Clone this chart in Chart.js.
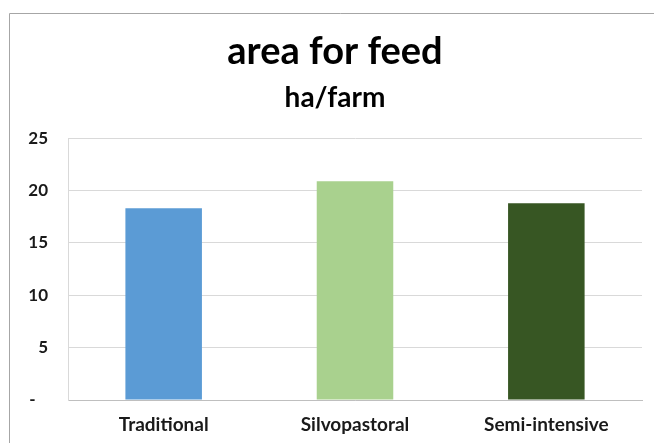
<!DOCTYPE html>
<html>
<head>
<meta charset="utf-8">
<script src="https://cdn.jsdelivr.net/npm/chart.js@4"></script>
<style>
html,body{margin:0;padding:0;background:#fff;overflow:hidden;}
#wrap{width:654px;height:443px;position:relative;overflow:hidden;}
</style>
</head>
<body>
<div id="wrap"><canvas id="c" width="670" height="443"></canvas></div>
<script>
const categories = ['Traditional', 'Silvopastoral', 'Semi-intensive'];
const areaForFeed = [18.3, 20.9, 18.8];
const barColors = ['#5B9BD5', '#A9D18E', '#375623'];
const yTicks = [0, 5, 10, 15, 20, 25];

const FONT = 'Lato, "Liberation Sans", sans-serif';

const frame = {
  id: 'frame',
  afterLayout(chart) {
    // centre the title blocks on the whole chart frame (as in the original)
    chart.boxes.forEach(b => {
      if (b.options && b.options.text !== undefined && b.position === 'top') {
        b.left = 0;
        b.right = chart.width;
        b.width = chart.width;
      }
    });
  },
  beforeDraw(chart) {
    const ctx = chart.ctx;
    ctx.save();
    ctx.strokeStyle = '#a6a6a6';
    ctx.lineWidth = 1;
    ctx.beginPath();
    ctx.moveTo(9.5, 460);
    ctx.lineTo(9.5, 13.5);
    ctx.lineTo(680, 13.5);
    ctx.stroke();
    ctx.restore();
  }
};

new Chart(document.getElementById('c'), {
  type: 'bar',
  data: {
    labels: categories,
    datasets: [{
      data: areaForFeed,
      backgroundColor: barColors,
      borderWidth: 0,
      barPercentage: 0.4,
      categoryPercentage: 1.0
    }]
  },
  plugins: [frame],
  options: {
    responsive: false,
    animation: false,
    layout: { padding: { left: 0, right: 28, top: 0, bottom: 0 } },
    plugins: {
      legend: { display: false },
      tooltip: { enabled: false },
      title: {
        display: true,
        text: 'area for feed',
        color: '#000',
        font: { family: FONT, size: 38, weight: 'bold', lineHeight: 1.2 },
        padding: { top: 29, bottom: 7 }
      },
      subtitle: {
        display: true,
        text: 'ha/farm',
        color: '#000',
        font: { family: FONT, size: 28, weight: 'bold', lineHeight: 1.2 },
        padding: { top: 0, bottom: 23 }
      }
    },
    scales: {
      x: {
        grid: { display: false, drawTicks: false },
        border: { display: true, color: '#bfbfbf', width: 1 },
        ticks: {
          color: '#1a1a1a',
          font: { family: FONT, size: 19, weight: 'bold' },
          padding: 13
        },
        afterFit(scale) { scale.height = 43; }
      },
      y: {
        min: 0,
        max: 25,
        afterBuildTicks(scale) { scale.ticks = yTicks.map(v => ({ value: v })); },
        grid: { color: '#d9d9d9', drawTicks: false, lineWidth: 1 },
        border: { display: true, color: '#d9d9d9', width: 1 },
        ticks: {
          color: '#1a1a1a',
          font: { family: FONT, size: 17, weight: 'bold' },
          padding: 20,
          callback: (v) => v === 0 ? '-   ' : String(v)
        },
        afterFit(scale) { scale.width = 68; }
      }
    }
  }
});
</script>
</body>
</html>
